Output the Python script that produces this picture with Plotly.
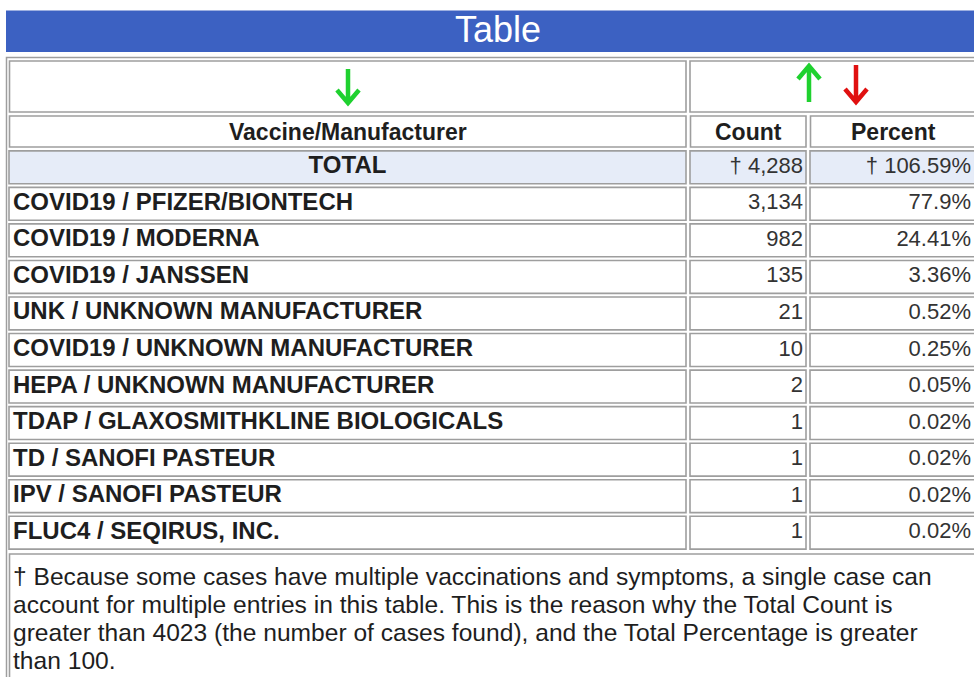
import plotly.graph_objects as go

# ---- data ----
vaccines = ["TOTAL", "COVID19 / PFIZER/BIONTECH", "COVID19 / MODERNA", "COVID19 / JANSSEN",
            "UNK / UNKNOWN MANUFACTURER", "COVID19 / UNKNOWN MANUFACTURER",
            "HEPA / UNKNOWN MANUFACTURER", "TDAP / GLAXOSMITHKLINE BIOLOGICALS",
            "TD / SANOFI PASTEUR", "IPV / SANOFI PASTEUR", "FLUC4 / SEQIRUS, INC."]
counts = ["† 4,288", "3,134", "982", "135", "21", "10", "2", "1", "1", "1", "1"]
percents = ["† 106.59%", "77.9%", "24.41%", "3.36%", "0.52%", "0.25%", "0.05%",
            "0.02%", "0.02%", "0.02%", "0.02%"]
headers = ["Vaccine/Manufacturer", "Count", "Percent"]
title_text = "Table"
footnote_lines = [
    "† Because some cases have multiple vaccinations and symptoms, a single case can",
    "account for multiple entries in this table. This is the reason why the Total Count is",
    "greater than 4023 (the number of cases found), and the Total Percentage is greater",
    "than 100.",
]

W, H = 974, 677
def px(x):
    return x / W
def py(y):
    return 1 - y / H

FONT = "Liberation Sans, Arial, sans-serif"
GRID = "#9e9e9e"
TXT = "#1e1e1e"
TOTAL_FILL = "#e6ecf8"

# column cell edges (layout, in pixels of the x axis)
COLS = [(9, 686), (690, 806), (810, 980)]

n = len(vaccines)
fills = [TOTAL_FILL] + ["white"] * (n - 1)

fig = go.Figure()

# table body cells as horizontal bars (one trace per column)
for (x0, x1) in COLS:
    fig.add_trace(go.Bar(
        orientation="h", y=vaccines, x=[x1 - x0] * n, base=[x0] * n,
        width=0.9, marker=dict(color=fills, line=dict(color=GRID, width=1.6)),
        hoverinfo="skip", showlegend=False,
    ))

# cell texts
fig.add_trace(go.Scatter(
    x=[(COLS[0][0] + COLS[0][1]) / 2] + [13] * (n - 1), y=vaccines,
    mode="text", text=[f"<b>{v}</b>" for v in vaccines],
    textposition=["middle center"] + ["middle right"] * (n - 1),
    textfont=dict(family=FONT, size=24, color=TXT),
    hoverinfo="skip", showlegend=False,
))
fig.add_trace(go.Scatter(
    x=[COLS[1][1] - 3] * n, y=vaccines, mode="text", text=counts,
    textposition="middle left", textfont=dict(family=FONT, size=22, color="#333333"),
    hoverinfo="skip", showlegend=False,
))
fig.add_trace(go.Scatter(
    x=[971] * n, y=vaccines, mode="text", text=percents,
    textposition="middle left", textfont=dict(family=FONT, size=22, color="#333333"),
    hoverinfo="skip", showlegend=False,
))

shapes = [
    # title bar
    dict(type="rect", xref="paper", yref="paper", x0=px(6), x1=1.0, y0=py(52), y1=py(10.5),
         fillcolor="#3c61c2", line=dict(width=0), layer="below"),
    # outer table border
    dict(type="rect", xref="paper", yref="paper", x0=px(6.5), x1=px(990), y0=py(690), y1=py(57.5),
         line=dict(color=GRID, width=1.5)),
    # arrow row cells
    dict(type="rect", xref="paper", yref="paper", x0=px(9.5), x1=px(686), y0=py(112), y1=py(61),
         line=dict(color=GRID, width=1.6)),
    dict(type="rect", xref="paper", yref="paper", x0=px(690), x1=px(990), y0=py(112), y1=py(61),
         line=dict(color=GRID, width=1.6)),
    # footnote cell
    dict(type="rect", xref="paper", yref="paper", x0=px(9.5), x1=px(990), y0=py(690), y1=py(554),
         line=dict(color=GRID, width=1.6)),
]
# header cells
for (x0, x1) in COLS:
    shapes.append(dict(type="rect", xref="paper", yref="paper", x0=px(x0 + 0.5), x1=px(min(x1, 990)),
                       y0=py(147), y1=py(116), line=dict(color=GRID, width=1.6),
                       fillcolor="white", layer="below"))


def arrow_path(x, y_tail, y_tip, half=11, head=13):
    """Sort arrow drawn as a shaft plus a chevron head (pixel inputs -> paper path)."""
    d = 1 if y_tip > y_tail else -1
    yb = y_tip - d * head
    return (f"M {px(x)},{py(y_tail)} L {px(x)},{py(y_tip)} "
            f"M {px(x - half)},{py(yb)} L {px(x)},{py(y_tip)} L {px(x + half)},{py(yb)}")


for x, yt, yp, col in [(348, 69, 103, "#1fd12f"), (809, 102, 66, "#1fd12f"),
                       (856, 65, 102, "#e01010")]:
    shapes.append(dict(type="path", xref="paper", yref="paper", path=arrow_path(x, yt, yp),
                       line=dict(color=col, width=4.5)))

annotations = [
    dict(text=title_text, xref="paper", yref="paper", x=px(498), y=py(30), showarrow=False,
         font=dict(family=FONT, size=36, color="white"), xanchor="center", yanchor="middle"),
]
header_centres = [348, 748, 893]
for h, cx in zip(headers, header_centres):
    annotations.append(dict(text=f"<b>{h}</b>", xref="paper", yref="paper", x=px(cx), y=py(132),
                            showarrow=False, xanchor="center", yanchor="middle",
                            font=dict(family=FONT, size=23, color=TXT)))
for i, line in enumerate(footnote_lines):
    annotations.append(dict(text=line, xref="paper", yref="paper", x=px(11), y=py(576 + 28 * i),
                            showarrow=False, xanchor="left", yanchor="middle", align="left",
                            font=dict(family=FONT, size=24.6, color=TXT)))

fig.update_layout(
    width=W, height=H,
    margin=dict(l=0, r=0, t=0, b=0),
    paper_bgcolor="white", plot_bgcolor="white",
    barmode="overlay",
    xaxis=dict(range=[0, W], visible=False, fixedrange=True, domain=[0, 1]),
    yaxis=dict(type="category", categoryorder="array", categoryarray=vaccines,
               range=[n - 0.5, -0.5], visible=False, fixedrange=True,
               domain=[py(551), py(149)]),
    shapes=shapes, annotations=annotations,
    font=dict(family=FONT),
)

fig.write_html("out.html", config={"displayModeBar": False},
               post_script="document.body.style.margin='0';document.body.style.overflow='hidden';")
